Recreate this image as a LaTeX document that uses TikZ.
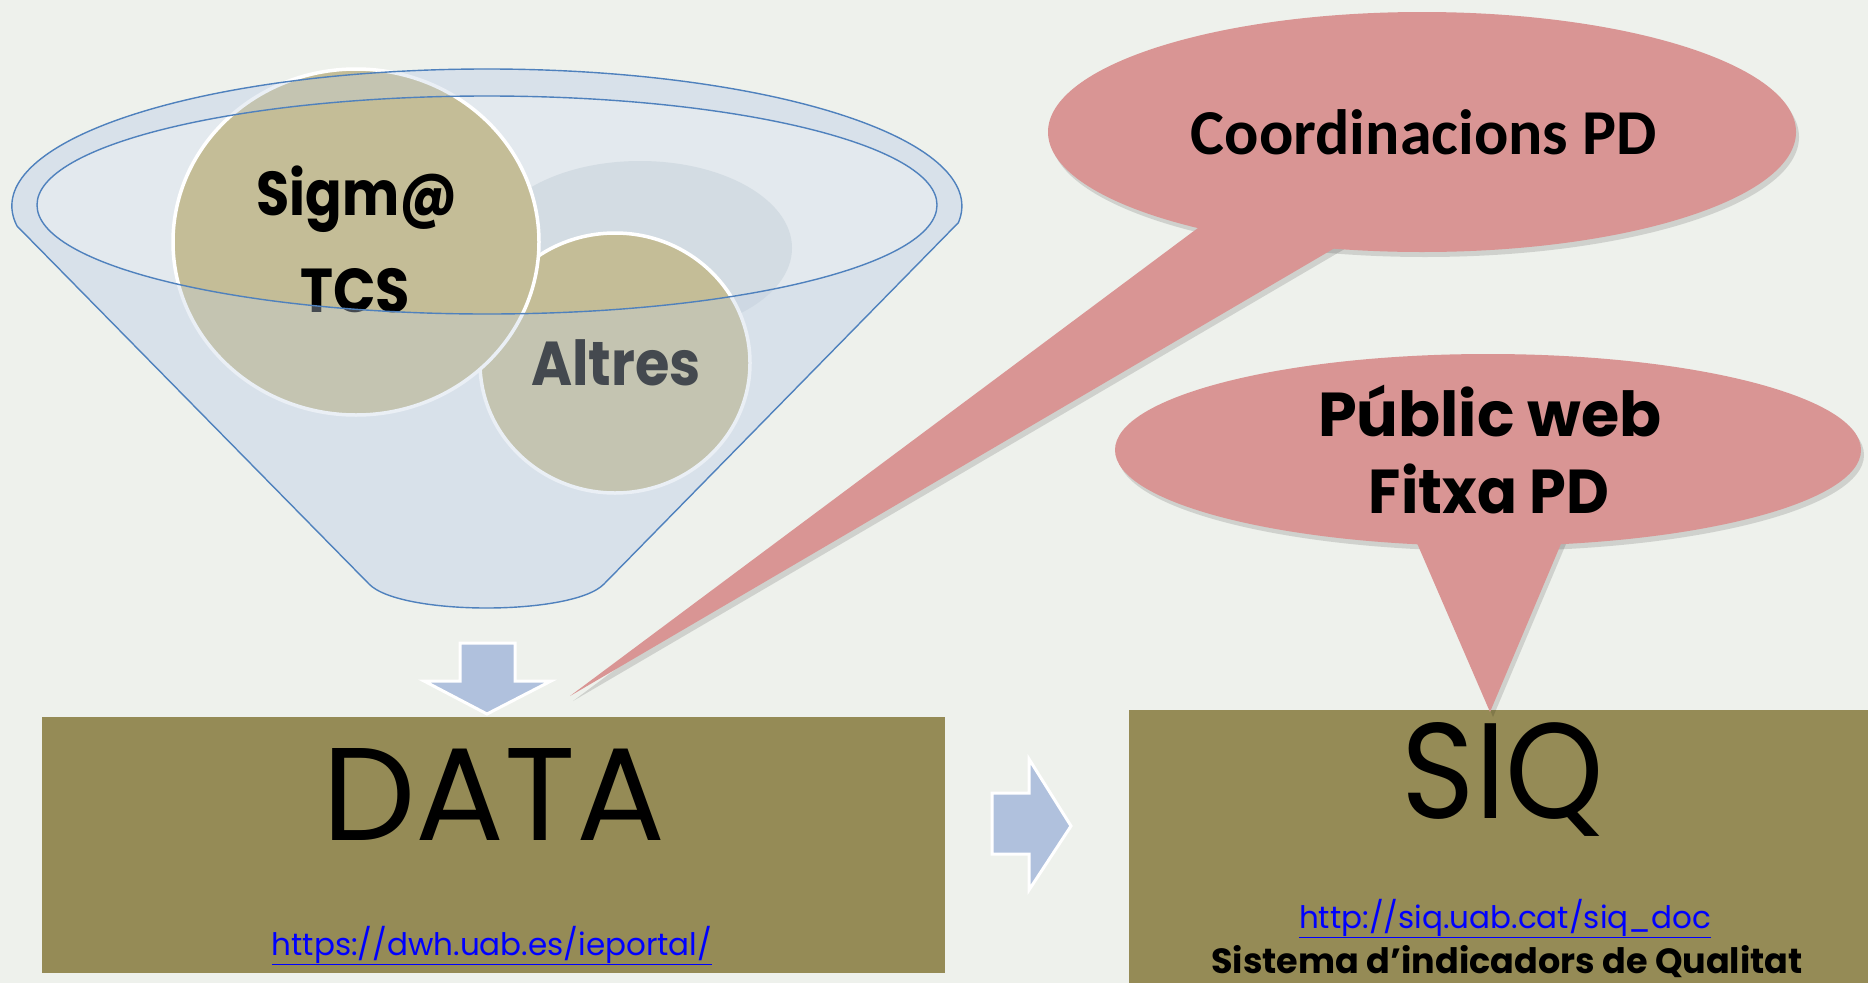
\documentclass[tikz,border=0pt]{standalone}
\usepackage{fontspec}
\usepackage{graphicx}
\setmainfont{Poppins}
\newfontfamily\calibrifont{Carlito}
\newcommand\hsq[2]{\scalebox{#1}[1]{#2}}
\definecolor{bgc}{HTML}{EEF1EC}
\definecolor{funnelback}{HTML}{E3E9EE}
\definecolor{funnelfront}{HTML}{C5D3E3}
\definecolor{depthc}{HTML}{D3DCE3}
\definecolor{tanc}{HTML}{C4BD97}
\definecolor{linec}{HTML}{4F81BD}
\definecolor{pinkc}{HTML}{D99594}
\definecolor{olivec}{HTML}{958B56}
\definecolor{arrowc}{HTML}{B0C1DD}
\definecolor{urlc}{HTML}{0000FF}
\tikzset{
  ball/.style={fill=tanc, draw=white, line width=3.5pt},
  rimline/.style={draw=linec, line width=1.4pt},
  callout/.style={fill=pinkc},
  calloutshadow/.style={fill=black, fill opacity=0.13},
  blockarrow/.style={fill=arrowc, draw=white, line width=3pt, line join=miter},
  box/.style={fill=olivec},
  urltext/.style={text=urlc, font=\fontsize{31}{34}\selectfont, inner sep=0pt},
  balltext/.style={font=\fontsize{62}{62}\selectfont\bfseries, inner sep=0pt, anchor=base},
}
\begin{document}
\begin{tikzpicture}[x=1pt,y=-1pt]
\useasboundingbox (0,0) rectangle (1868,983);
\fill[bgc] (0,0) rectangle (1868,983);

% funnel back
\fill[funnelback] (17,226) arc[start angle=188.4, end angle=-7, x radius=475pt, y radius=137pt] -- (604,584) .. controls (573,616) and (400,616) .. (369,584) -- cycle;
\fill[depthc] (640,248) ellipse[x radius=152pt, y radius=87pt];

% balls
\path[ball] (615,363) ellipse[x radius=135pt, y radius=130pt];
\node[balltext] (altres) at (616,385) {\hsq{0.9}{Altres}};
\path[ball] (356,242) ellipse[x radius=183pt, y radius=173pt];
\node[balltext] (sigma) at (357,215) {\hsq{0.87}{Sigm@}};
\node[balltext] (tcs) at (355,312) {\hsq{0.9}{TCS}};

% funnel front overlay
\fill[funnelfront, fill opacity=0.35, even odd rule] (17,226) arc[start angle=188.4, end angle=-7, x radius=475pt, y radius=137pt] -- (604,584) .. controls (573,616) and (400,616) .. (369,584) -- cycle (487,205) ellipse[x radius=450pt, y radius=109pt];

% funnel lines
\draw[rimline] (17,226) arc[start angle=188.4, end angle=-7, x radius=475pt, y radius=137pt] -- (604,584) .. controls (573,616) and (400,616) .. (369,584) -- cycle;
\draw[rimline] (487,205) ellipse[x radius=450pt, y radius=109pt];

% boxes
\fill[box] (42,717) rectangle (945,973);
\fill[box] (1129,710) rectangle (1868,983);

% callouts shadows
\begin{scope}[shift={(3,5)}]
\fill[calloutshadow] (1422,132) ellipse[x radius=374pt, y radius=120pt];
\fill[calloutshadow] (1210,219) -- (570,696) -- (1345,242) -- cycle;
\fill[calloutshadow] (1488,450) ellipse[x radius=373pt, y radius=96pt];
\fill[calloutshadow] (1407,520) -- (1490,712) -- (1571,520) -- cycle;
\end{scope}
% callouts
\fill[callout] (1422,132) ellipse[x radius=374pt, y radius=120pt];
\fill[callout] (1210,219) -- (570,696) -- (1345,242) -- cycle;
\fill[callout] (1488,450) ellipse[x radius=373pt, y radius=96pt];
\fill[callout] (1407,520) -- (1490,712) -- (1571,520) -- cycle;
\node[anchor=base, font=\calibrifont\fontsize{64}{64}\selectfont\bfseries, inner sep=0pt] (coord) at (1424,154) {Coordinacions PD};
\node[anchor=base, font=\fontsize{62}{62}\selectfont\bfseries, inner sep=0pt] (public) at (1490,436) {Públic web};
\node[anchor=base, font=\fontsize{62}{62}\selectfont\bfseries, inner sep=0pt] (fitxa) at (1489,513) {\hsq{0.95}{Fitxa PD}};

% block arrows
\draw[blockarrow] (460,643) -- (515,643) -- (515,681) -- (551,681) -- (487,714) -- (424,681) -- (460,681) -- cycle;
\draw[blockarrow] (992,793) -- (1029,793) -- (1029,759) -- (1071,826) -- (1029,890) -- (1029,854) -- (992,854) -- cycle;

% box texts
\node[anchor=base, font=\fontsize{132}{132}\selectfont, inner sep=0pt] (data) at (494,840) {DATA};
\node[anchor=base, urltext] (dataurl) at (492,955) {\underline{https://dwh.uab.es/ieportal/}};
\node[anchor=base, font=\fontsize{136}{136}\selectfont, inner sep=0pt] (siq) at (1503,818) {\hsq{0.92}{SIQ}};
\node[anchor=base, urltext] (siqurl) at (1505,928) {\underline{http://siq.uab.cat/siq\_doc}};
\node[anchor=base, font=\fontsize{35}{35}\selectfont\bfseries, inner sep=0pt] (sistema) at (1507,973) {Sistema d’indicadors de Qualitat};
\end{tikzpicture}
\end{document}
